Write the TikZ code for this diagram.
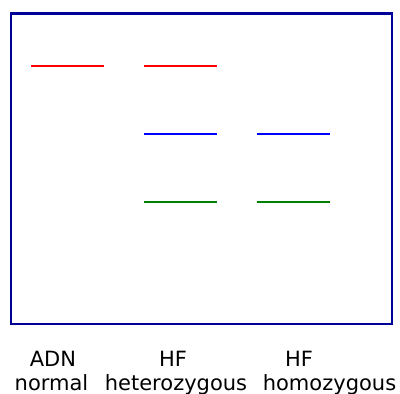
\documentclass[tikz,border=0pt]{standalone}
\usepackage{fontspec}
\setmainfont{DejaVu Sans}
\definecolor{frame}{HTML}{000099}
\definecolor{bandred}{HTML}{FF0000}
\definecolor{bandblue}{HTML}{0000FF}
\definecolor{bandgreen}{HTML}{008000}
\begin{document}
\begin{tikzpicture}[x=1pt,y=-1pt,
  band/.style={line width=2pt},
  lbl/.style={anchor=base,inner sep=0pt,font=\fontsize{21}{24}\selectfont}]
\useasboundingbox (0,0) rectangle (400,394);
\fill[white] (0,0) rectangle (400,394);
\draw[frame,line width=2.7pt] (11,13.5) rectangle (392,324);
% lane 1
\coordinate (r1a) at (31,66); \coordinate (r1b) at (104,66);
\draw[band,bandred] (r1a) -- (r1b);
% lane 2
\coordinate (r2a) at (144,66); \coordinate (r2b) at (217,66);
\draw[band,bandred] (r2a) -- (r2b);
\coordinate (b2a) at (144,134); \coordinate (b2b) at (217,134);
\draw[band,bandblue] (b2a) -- (b2b);
\coordinate (g2a) at (144,202); \coordinate (g2b) at (217,202);
\draw[band,bandgreen] (g2a) -- (g2b);
% lane 3
\coordinate (b3a) at (257,134); \coordinate (b3b) at (330,134);
\draw[band,bandblue] (b3a) -- (b3b);
\coordinate (g3a) at (257,202); \coordinate (g3b) at (330,202);
\draw[band,bandgreen] (g3a) -- (g3b);
% labels
\node[lbl] (t1) at (53,366.5) {ADN};
\node[lbl] (t2) at (51.5,390) {normal};
\node[lbl] (t3) at (173,366.5) {HF};
\node[lbl] (t4) at (176,390) {heterozygous};
\node[lbl] (t5) at (299,366.5) {HF};
\node[lbl] (t6) at (329.5,390) {homozygous};
\end{tikzpicture}
\end{document}
